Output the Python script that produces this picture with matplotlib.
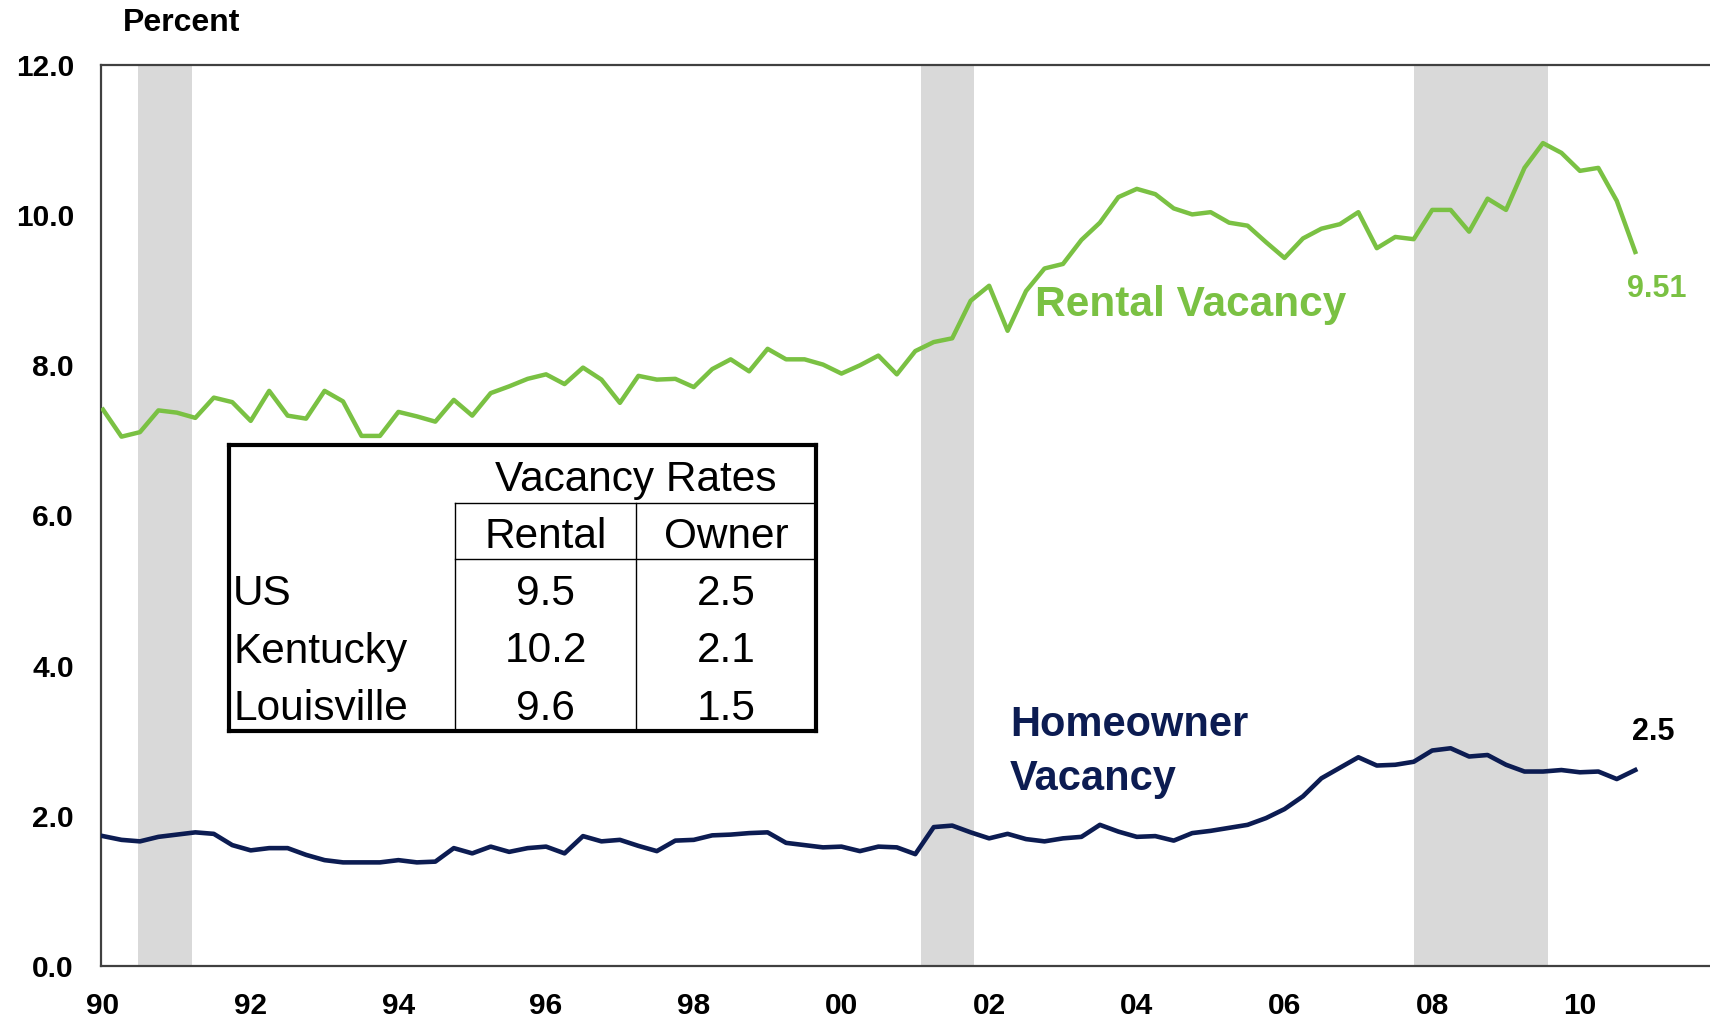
import matplotlib
matplotlib.use("Agg")
import matplotlib.pyplot as plt

plt.rcParams['font.family'] = ['Liberation Sans', 'DejaVu Sans']

# quarterly vacancy rates, 1990 Q1 .. 2010 Q4 (percent)
rental = [7.41, 7.05, 7.11, 7.40, 7.37, 7.30, 7.57, 7.51, 7.26, 7.66,
          7.33, 7.29, 7.66, 7.52, 7.06, 7.06, 7.38, 7.32, 7.25, 7.54,
          7.33, 7.63, 7.72, 7.82, 7.88, 7.75, 7.97, 7.81, 7.50, 7.86,
          7.81, 7.82, 7.71, 7.95, 8.08, 7.92, 8.22, 8.08, 8.08, 8.01,
          7.89, 8.00, 8.13, 7.88, 8.19, 8.31, 8.36, 8.86, 9.06, 8.46,
          8.99, 9.29, 9.35, 9.67, 9.90, 10.24, 10.35, 10.28, 10.09, 10.01,
          10.04, 9.90, 9.86, 9.64, 9.43, 9.69, 9.82, 9.88, 10.04, 9.56,
          9.71, 9.68, 10.07, 10.07, 9.78, 10.22, 10.07, 10.63, 10.96, 10.83,
          10.59, 10.63, 10.19, 9.51]
homeowner = [1.73, 1.68, 1.66, 1.72, 1.75, 1.78, 1.76, 1.61, 1.54, 1.57,
             1.57, 1.48, 1.41, 1.38, 1.38, 1.38, 1.41, 1.38, 1.39, 1.57,
             1.50, 1.59, 1.52, 1.57, 1.59, 1.50, 1.73, 1.66, 1.68, 1.60,
             1.53, 1.67, 1.68, 1.74, 1.75, 1.77, 1.78, 1.64, 1.61, 1.58,
             1.59, 1.53, 1.59, 1.58, 1.49, 1.85, 1.87, 1.78, 1.70, 1.76,
             1.69, 1.66, 1.70, 1.72, 1.88, 1.79, 1.72, 1.73, 1.67, 1.77,
             1.80, 1.84, 1.88, 1.97, 2.09, 2.26, 2.50, 2.64, 2.78, 2.67,
             2.68, 2.72, 2.87, 2.90, 2.79, 2.81, 2.68, 2.59, 2.59, 2.61,
             2.58, 2.59, 2.49, 2.61]
quarters = list(range(len(rental)))

# recessions, in quarters since 1990 Q1
recessions = [(1.9, 4.8), (44.3, 47.2), (71.0, 78.3)]

year_ticks = [0, 8, 16, 24, 32, 40, 48, 56, 64, 72, 80]
year_labels = ['90', '92', '94', '96', '98', '00', '02', '04', '06', '08', '10']
y_ticks = [0, 2, 4, 6, 8, 10, 12]

# inset table
tbl_title = "Vacancy Rates"
tbl_cols = ["Rental", "Owner"]
tbl_rows = ["US", "Kentucky", "Louisville"]
tbl_rental = ["9.5", "10.2", "9.6"]
tbl_owner = ["2.5", "2.1", "1.5"]

GREEN = "#7ac143"
NAVY = "#0c1c52"

W, H = 1710, 1019
fig = plt.figure(figsize=(W / 100, H / 100), dpi=100)
ax = fig.add_axes([101 / W, 53 / H, 1626 / W, 901 / H])

for a, b in recessions:
    ax.axvspan(a, b, color="#d9d9d9", lw=0, zorder=0)

ax.plot(quarters, rental, color=GREEN, lw=3.2, zorder=3)
ax.plot(quarters, homeowner, color=NAVY, lw=3.3, zorder=3)

ax.set_xlim(-0.11, 87.97)
ax.set_ylim(0, 12)
ax.set_yticks(y_ticks)
ax.set_yticklabels([f"{v:.1f}" for v in y_ticks], fontsize=21.5, fontweight='bold')
ax.set_xticks(year_ticks)
ax.set_xticklabels(year_labels, fontsize=21.5, fontweight='bold')
ax.tick_params(axis='both', length=0)
ax.tick_params(axis='y', pad=19.5)
ax.tick_params(axis='x', pad=19)
for s in ax.spines.values():
    s.set_color("#404040")
    s.set_linewidth(1.6)

# series labels
ax.text(50.5, 8.66, "Rental Vacancy", color=GREEN, fontsize=30.5, fontweight='bold',
        ha='left', va='baseline')
ax.text(49.12, 3.06, "Homeowner", color=NAVY, fontsize=30, fontweight='bold',
        ha='left', va='baseline')
ax.text(49.12, 2.35, "Vacancy", color=NAVY, fontsize=30, fontweight='bold',
        ha='left', va='baseline')
ax.annotate("9.51", (quarters[-1], rental[-1]), xytext=(21, -37), textcoords='offset pixels',
            color=GREEN, fontsize=22, fontweight='bold', ha='center', va='center')
ax.annotate("2.5", (quarters[-1], homeowner[-1]), xytext=(18, 38), textcoords='offset pixels',
            color='black', fontsize=22, fontweight='bold', ha='center', va='center')

fig.text(182 / W, 1 - 23 / H, "Percent", fontsize=23, fontweight='bold', ha='center', va='center')


# table, laid out in figure pixels (from top-left)
def fx(px):
    return px / W


def fy(py):
    return 1 - py / H


def line(x0, y0, x1, y1, lw):
    fig.add_artist(plt.Line2D([fx(x0), fx(x1)], [fy(y0), fy(y1)], color='black', lw=lw,
                              solid_capstyle='projecting', zorder=6))


L, R, T, B = 229, 816, 445, 731
c1, c2 = 455, 636
h1, h2 = 503, 559
fig.add_artist(plt.Rectangle((fx(L), fy(B)), fx(R) - fx(L), fy(T) - fy(B),
                             facecolor='white', edgecolor='none', zorder=5))
line(c1, h1, R, h1, 1.0)
line(c1, h2, R, h2, 1.0)
line(c1, h1, c1, B, 1.0)
line(c2, h1, c2, B, 1.0)
for x0, y0, x1, y1 in [(L, T, R, T), (R, T, R, B), (R, B, L, B), (L, B, L, T)]:
    line(x0, y0, x1, y1, 3.0)

tsize = 30.5
fig.text(fx((c1 + R) / 2), fy(491), tbl_title, fontsize=tsize, ha='center', va='baseline', zorder=7)
fig.text(fx((c1 + c2) / 2), fy(548), tbl_cols[0], fontsize=tsize, ha='center', va='baseline', zorder=7)
fig.text(fx((c2 + R) / 2), fy(548), tbl_cols[1], fontsize=tsize, ha='center', va='baseline', zorder=7)
for k, (name, rv, ov) in enumerate(zip(tbl_rows, tbl_rental, tbl_owner)):
    base = 605 + k * 57.5
    fig.text(fx(233), fy(base), name, fontsize=tsize, ha='left', va='baseline', zorder=7)
    fig.text(fx((c1 + c2) / 2), fy(base), rv, fontsize=tsize, ha='center', va='baseline', zorder=7)
    fig.text(fx((c2 + R) / 2), fy(base), ov, fontsize=tsize, ha='center', va='baseline', zorder=7)

fig.savefig("out.png", dpi=100)
